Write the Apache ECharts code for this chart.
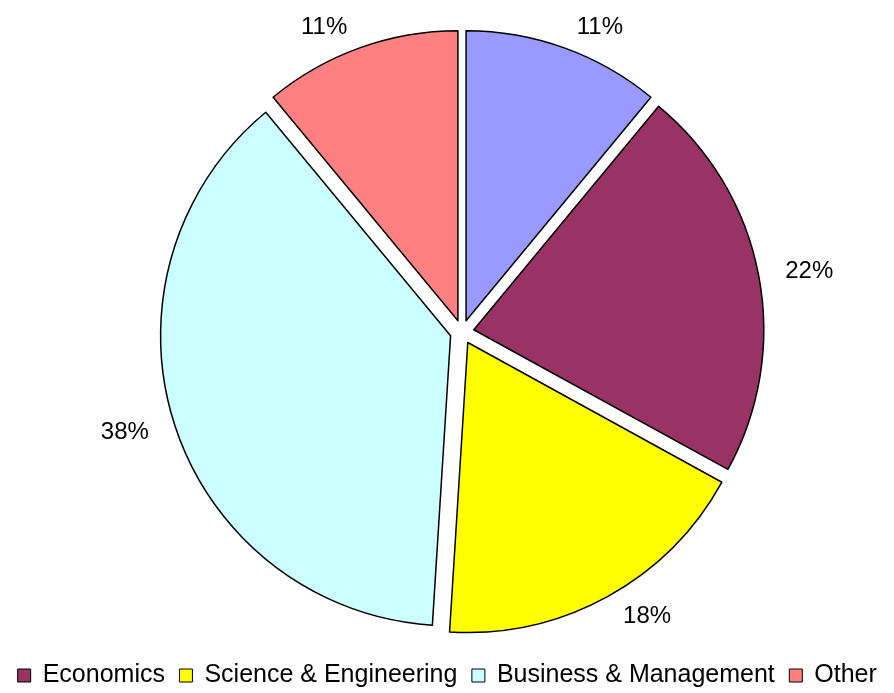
<!DOCTYPE html>
<html>
<head>
<meta charset="utf-8">
<script src="https://cdn.jsdelivr.net/npm/echarts@6/dist/echarts.min.js"></script>
<style>
  html, body { margin: 0; padding: 0; background: #fff; }
  #pie { width: 894px; height: 693px; }
</style>
</head>
<body>
<div id="pie"></div>
<script>
// 各部分名称和百分比
const names = ['Humanities', 'Economics', 'Science & Engineering', 'Business & Management', 'Other'];
const values = [11, 22, 18, 38, 11];
const colors = ['#9999FF', '#993366', '#FFFF00', '#CCFFFF', '#FF8080'];
// 图例只显示后四项
const legendNames = ['Economics', 'Science & Engineering', 'Business & Management', 'Other'];

const pieBox = echarts.init(document.getElementById('pie'));

const option = {
  backgroundColor: '#fff',
  animation: false,
  legend: {
    data: legendNames,
    bottom: 0,
    left: 'center',
    icon: 'rect',
    itemWidth: 13,
    itemHeight: 13,
    itemGap: 14,
    textStyle: { fontFamily: 'Liberation Sans', fontSize: 25, color: '#000', padding: [0, 0, 0, 7] },
    itemStyle: { borderColor: '#000', borderWidth: 1 }
  },
  series: [
    {
      type: 'pie',
      center: [462, 332],
      radius: 290,
      startAngle: 90,
      selectedMode: 'multiple',
      selectedOffset: 12,
      emphasis: { disabled: true },
      itemStyle: { borderColor: '#000', borderWidth: 1.5 },
      label: {
        position: 'outside',
        formatter: '{c}%',
        fontFamily: 'Liberation Sans',
        fontSize: 24,
        color: '#000'
      },
      labelLine: { show: false, length: 22, length2: 0 },
      data: names.map((n, i) => ({
        name: n,
        value: values[i],
        selected: true,
        itemStyle: { color: colors[i] }
      }))
    }
  ]
};

pieBox.setOption(option);
</script>
</body>
</html>
